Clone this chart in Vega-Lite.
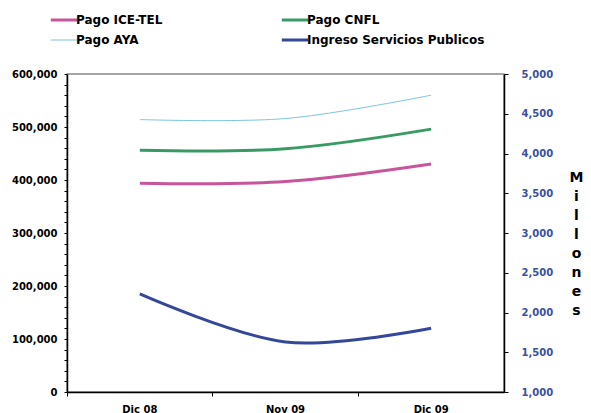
{
  "$schema": "https://vega.github.io/schema/vega-lite/v6.json",
  "width": 437,
  "height": 318,
  "autosize": "none",
  "padding": {"left": 67, "top": 74, "right": 87, "bottom": 21},
  "background": "white",
  "view": {"stroke": "#888888", "strokeWidth": 1.5},
  "config": {
    "font": "DejaVu Sans",
    "axis": {"labelFont": "DejaVu Sans", "labelFontWeight": "bold", "labelFontSize": 10, "labelColor": "black", "domainColor": "black", "tickColor": "black", "grid": false, "titleFont": "DejaVu Sans"},
    "legend": {"labelFont": "DejaVu Sans", "labelFontWeight": "bold", "labelFontSize": 12}
  },
  "datasets": {
    "left": [
      {"mes": "Dic 08", "serie": "Pago ICE-TEL", "valor": 394000},
      {"mes": "Nov 09", "serie": "Pago ICE-TEL", "valor": 397000},
      {"mes": "Dic 09", "serie": "Pago ICE-TEL", "valor": 430000},
      {"mes": "Dic 08", "serie": "Pago CNFL", "valor": 456000},
      {"mes": "Nov 09", "serie": "Pago CNFL", "valor": 459000},
      {"mes": "Dic 09", "serie": "Pago CNFL", "valor": 496000}
    ],
    "aya": [
      {"mes": "Dic 08", "serie": "Pago AYA", "valor": 514000},
      {"mes": "Nov 09", "serie": "Pago AYA", "valor": 516000},
      {"mes": "Dic 09", "serie": "Pago AYA", "valor": 560000}
    ],
    "right": [
      {"mes": "Dic 08", "serie": "Ingreso Servicios Publicos", "valor": 2233},
      {"mes": "Nov 09", "serie": "Ingreso Servicios Publicos", "valor": 1630},
      {"mes": "Dic 09", "serie": "Ingreso Servicios Publicos", "valor": 1801}
    ]
  },
  "encoding": {
    "x": {
      "field": "mes", "type": "nominal", "sort": ["Dic 08", "Nov 09", "Dic 09"],
      "scale": {"type": "band", "paddingInner": 0, "paddingOuter": 0},
      "axis": {"title": null, "labelAngle": 0, "bandPosition": 0, "tickSize": 4, "labelPadding": 8, "domainWidth": 1.5}
    },
    "color": {
      "field": "serie", "type": "nominal",
      "scale": {"domain": ["Pago ICE-TEL", "Pago CNFL", "Pago AYA", "Ingreso Servicios Publicos"], "range": ["#C8559B", "#3A9A66", "#7CC6DB", "#34479A"]},
      "legend": {"title": null, "orient": "none", "legendX": -9, "legendY": -60, "columns": 2, "direction": "horizontal", "symbolType": "stroke", "symbolSize": 700, "symbolStrokeWidth": 3, "labelOffset": 6, "labelLimit": 400, "columnPadding": 112, "rowPadding": 8,
        "encode": {"symbols": {"update": {"strokeWidth": {"signal": "datum.label == 'Pago AYA' ? 1 : 3"}}}}}
    }
  },
  "layer": [
    {
      "encoding": {
        "y": {
          "field": "valor", "type": "quantitative",
          "scale": {"domain": [0, 600000], "nice": false, "zero": true},
          "axis": {"title": null, "values": [0,20000,40000,60000,80000,100000,120000,140000,160000,180000,200000,220000,240000,260000,280000,300000,320000,340000,360000,380000,400000,420000,440000,460000,480000,500000,520000,540000,560000,580000,600000], "labelExpr": "datum.value % 100000 == 0 ? format(datum.value, ',') : ''", "labelOverlap": false, "tickSize": 3, "labelPadding": 7, "domainWidth": 1.5}
        }
      },
      "layer": [
        {
          "data": {"name": "left"},
          "mark": {"type": "line", "interpolate": "catmull-rom", "strokeWidth": 3}
        },
        {
          "data": {"name": "aya"},
          "mark": {"type": "line", "interpolate": "catmull-rom", "strokeWidth": 1}
        }
      ]
    },
    {
      "data": {"name": "right"},
      "mark": {"type": "line", "interpolate": "catmull-rom", "strokeWidth": 3},
      "encoding": {
        "y": {
          "field": "valor", "type": "quantitative",
          "scale": {"domain": [1000, 5000], "nice": false, "zero": false},
          "axis": {"orient": "right", "values": [1000,1500,2000,2500,3000,3500,4000,4500,5000], "labelExpr": "format(datum.value, ',')", "labelColor": "#3B4FA0", "tickSize": 4, "labelPadding": 13, "domainWidth": 1.5,
            "title": ["M", "i", "l", "l", "o", "n", "e", "s"], "titleAngle": 0, "titleFontSize": 14, "titleFontWeight": "bold", "titleLineHeight": 19, "titleX": 72, "titleY": 96, "titleAlign": "center", "titleBaseline": "top"}
        }
      }
    }
  ],
  "resolve": {"scale": {"y": "independent"}}
}
